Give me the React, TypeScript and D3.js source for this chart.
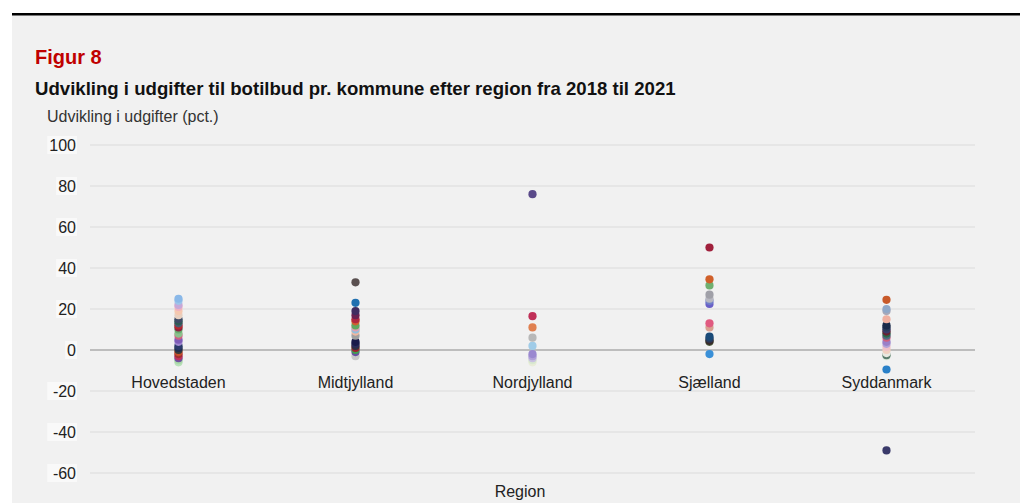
import React from "react";
import * as d3 from "d3";

const categories = ["Hovedstaden", "Midtjylland", "Nordjylland", "Sjælland", "Syddanmark"];
const yTicks = [100, 80, 60, 40, 20, 0, -20, -40, -60];

const hovedValues = [25, 24, 22, 21, 19, 17, 15, 14, 13, 12, 11, 10, 8, 7, 5, 4, 2, 1, 0, -1, -2, -3, -4, -5, -6];
const hovedColors = ["#8ab8e8", "#9cc4ea", "#c6a8d8", "#f0b0c0", "#f5c8b0", "#e8d0c0", "#3e4a66", "#2c5d52", "#4a5a70", "#b8282c", "#8e2040", "#6aae70", "#8cc08c", "#d06080", "#7e5cb8", "#a088d0", "#2a3a6a", "#1e2e50", "#3a3a3a", "#c8502a", "#a03030", "#c03060", "#7050a0", "#a8d8a8", "#b8e0b8"];

const midtValues = [33, 23, 19, 17, 15, 14, 12, 11, 10, 9, 7, 4, 3, 2, 1, 0, -1, -3];
const midtColors = ["#5a5050", "#2070b0", "#402c60", "#6a2050", "#b02840", "#d06030", "#60a860", "#e0a0b0", "#90c0e0", "#f0b8a0", "#a0a0a0", "#1a1a4a", "#2a2a5a", "#303040", "#a02030", "#40a050", "#6a50a0", "#c8c8c8"];

const nordValues = [76, 16.5, 11, 6, 2, -2, -3, -4, -5, -6];
const nordColors = ["#5a4a8a", "#c03058", "#e08050", "#b8b8b8", "#a0cce8", "#9a88d0", "#b0a0d8", "#c8c0e0", "#d8e8d0", "#e8ecd8"];

const sjaelValues = [50, 34.5, 31.5, 27, 25, 24, 22.5, 13, 11, 6.5, 5.5, 4.5, 4, -2];
const sjaelColors = ["#a0203c", "#d0602a", "#70b070", "#a0a0a8", "#b8b8c0", "#7080c8", "#6a60c8", "#e05a80", "#d8a090", "#1a4a78", "#2a3a5a", "#3a2a2a", "#4a5a3a", "#3a90d8"];

const syddValues = [24.5, 20, 19, 15, 12, 11, 10, 9, 8, 7, 6, 4, 3, 1.5, 0, -1.5, -2.5, -3, -9.5, -49];
const syddColors = ["#c85a2a", "#90a8c8", "#a8a8b8", "#f0b0a0", "#1a2a4a", "#2a3a5a", "#3a3a6a", "#6a2030", "#2a6a4a", "#506a80", "#d06080", "#9a80c8", "#b0a0d8", "#f0c0c8", "#f0d0c0", "#e8e8e0", "#5a7a6a", "#d8e8d8", "#2a80c8", "#3a3a6a"];

const seriesValues = [hovedValues, midtValues, nordValues, sjaelValues, syddValues];
const seriesColors = [hovedColors, midtColors, nordColors, sjaelColors, syddColors];

const W = 1020;
const H = 503;
const FONT = "'Liberation Sans', Arial, Helvetica, sans-serif";

export default function App() {
  const x = d3.scaleBand<string>().domain(categories).range([90, 975]).padding(0);
  const y = d3.scaleLinear().domain([-60, 100]).range([473, 145]);

  const points = categories.flatMap((c, ci) =>
    seriesValues[ci].map((v, i) => ({ c, v, color: seriesColors[ci][i] }))
  );
  const drawOrder = [...points].sort((a, b) => a.v - b.v);

  return (
    <svg
      width={W}
      height={H}
      style={{ position: "absolute", left: 0, top: 0, display: "block" }}
      fontFamily={FONT}
    >
      <rect x={0} y={0} width={W} height={H} fill="#ffffff" />
      <rect x={12} y={15} width={W - 12} height={H - 15} fill="#f1f1f1" />
      <rect x={12} y={13} width={W - 12} height={2.5} fill="#000000" />

      <text x={35} y={64} fontSize={20} fontWeight="bold" fill="#c00000">
        Figur 8
      </text>
      <text x={35} y={95} fontSize={18.6} fontWeight="bold" fill="#111111">
        Udvikling i udgifter til botilbud pr. kommune efter region fra 2018 til 2021
      </text>
      <text x={47} y={122} fontSize={16} fill="#333333">
        Udvikling i udgifter (pct.)
      </text>

      {yTicks.map((t) => {
        const label = String(t);
        const w = label.length * 8.9 + 3;
        return (
          <g key={t}>
            <line
              x1={90}
              x2={975}
              y1={y(t)}
              y2={y(t)}
              stroke={t === 0 ? "#8a8a8a" : "#dcdcdc"}
              strokeWidth={1.2}
            />
            <rect x={77 - w} y={y(t) - 9} width={w} height={18} fill="#f9f9f9" />
            <text x={76} y={y(t)} dy="0.36em" textAnchor="end" fontSize={16} fill="#222222">
              {label}
            </text>
          </g>
        );
      })}

      {categories.map((c) => (
        <text
          key={c}
          x={(x(c) ?? 0) + x.bandwidth() / 2}
          y={388}
          textAnchor="middle"
          fontSize={16}
          fill="#222222"
        >
          {c}
        </text>
      ))}

      {drawOrder.map((p, i) => (
        <circle
          key={i}
          cx={(x(p.c) ?? 0) + x.bandwidth() / 2}
          cy={y(p.v)}
          r={4.1}
          fill={p.color}
        />
      ))}

      <text x={520} y={497} textAnchor="middle" fontSize={16} fill="#222222">
        Region
      </text>
    </svg>
  );
}
